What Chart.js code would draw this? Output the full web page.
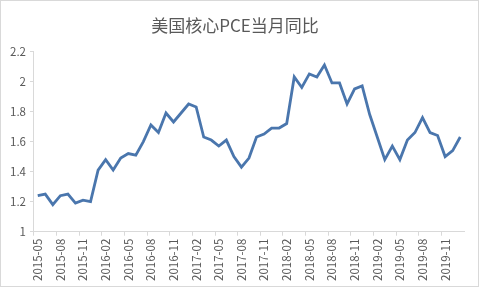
<!DOCTYPE html>
<html lang="zh">
<head>
  <meta charset="UTF-8">
  <title>美国核心PCE当月同比</title>
  <script src="https://cdn.jsdelivr.net/npm/chart.js"></script>
  <style>
    body { margin: 0; background: #fff; }
    .frame {
      position: relative;
      width: 477px;
      height: 285px;
      border: 1px solid #d9d9d9;
      background: #fff;
    }
  </style>
</head>
<body>
  <div class="frame">
    <canvas id="pceChart"></canvas>
  </div>

  <script>
    // months, 2015-05 .. 2020-01
    const months = [
      '2015-05', '2015-06', '2015-07', '2015-08', '2015-09', '2015-10', '2015-11', '2015-12',
      '2016-01', '2016-02', '2016-03', '2016-04', '2016-05', '2016-06', '2016-07', '2016-08', '2016-09', '2016-10', '2016-11', '2016-12',
      '2017-01', '2017-02', '2017-03', '2017-04', '2017-05', '2017-06', '2017-07', '2017-08', '2017-09', '2017-10', '2017-11', '2017-12',
      '2018-01', '2018-02', '2018-03', '2018-04', '2018-05', '2018-06', '2018-07', '2018-08', '2018-09', '2018-10', '2018-11', '2018-12',
      '2019-01', '2019-02', '2019-03', '2019-04', '2019-05', '2019-06', '2019-07', '2019-08', '2019-09', '2019-10', '2019-11', '2019-12',
      '2020-01'
    ];

    // core PCE, yoy %
    const corePce = [
      1.24, 1.25, 1.18, 1.24, 1.25, 1.19, 1.21, 1.20,
      1.41, 1.48, 1.41, 1.49, 1.52, 1.51, 1.60, 1.71, 1.66, 1.79, 1.73, 1.79,
      1.85, 1.83, 1.63, 1.61, 1.57, 1.61, 1.50, 1.43, 1.49, 1.63, 1.65, 1.69,
      1.69, 1.72, 2.03, 1.96, 2.05, 2.03, 2.11, 1.99, 1.99, 1.85, 1.95, 1.97,
      1.78, 1.63, 1.48, 1.57, 1.48, 1.61, 1.66, 1.76, 1.66, 1.64, 1.50, 1.54,
      1.63
    ];

    const yTicks = [1, 1.2, 1.4, 1.6, 1.8, 2, 2.2];
    const labelEvery = 3;

    const axisGrey = '#d9d9d9';
    const textGrey = '#595959';

    new Chart(document.getElementById('pceChart'), {
      type: 'line',
      data: {
        labels: months,
        datasets: [{
          label: '美国核心PCE当月同比',
          data: corePce,
          borderColor: '#4a76ad',
          borderWidth: 2.8,
          pointRadius: 0,
          tension: 0,
          fill: false
        }]
      },
      options: {
        responsive: true,
        maintainAspectRatio: false,
        animation: false,
        layout: { padding: { left: 5, right: 14, top: 0, bottom: 2 } },
        plugins: {
          legend: { display: false },
          tooltip: { enabled: false },
          title: {
            display: true,
            text: '美国核心PCE当月同比',
            color: textGrey,
            font: { family: '"Noto Sans CJK SC", sans-serif', size: 17, weight: 'normal' },
            padding: { top: 14, bottom: 16 }
          }
        },
        scales: {
          x: {
            offset: true,
            grid: {
              display: true,
              drawOnChartArea: false,
              drawTicks: true,
              tickLength: 4,
              offset: true,
              color: ctx => (ctx.index % labelEvery === 0 ? axisGrey : 'rgba(0,0,0,0)')
            },
            border: { color: axisGrey },
            ticks: {
              autoSkip: false,
              maxRotation: 90,
              minRotation: 90,
              padding: 3,
              color: textGrey,
              font: { family: '"Noto Sans CJK SC", sans-serif', size: 11.5 },
              callback: function (value, index) {
                return index % labelEvery === 0 ? months[index] : '';
              }
            }
          },
          y: {
            min: yTicks[0],
            max: yTicks[yTicks.length - 1],
            afterBuildTicks: axis => {
              axis.ticks = yTicks.map(v => ({ value: v }));
            },
            grid: {
              display: true,
              drawOnChartArea: false,
              drawTicks: true,
              tickLength: 4,
              color: axisGrey
            },
            border: { color: axisGrey },
            ticks: {
              padding: 4,
              color: textGrey,
              font: { family: '"Noto Sans CJK SC", sans-serif', size: 11.5 },
              callback: v => String(Number(v.toFixed(1)))
            }
          }
        }
      }
    });
  </script>
</body>
</html>
